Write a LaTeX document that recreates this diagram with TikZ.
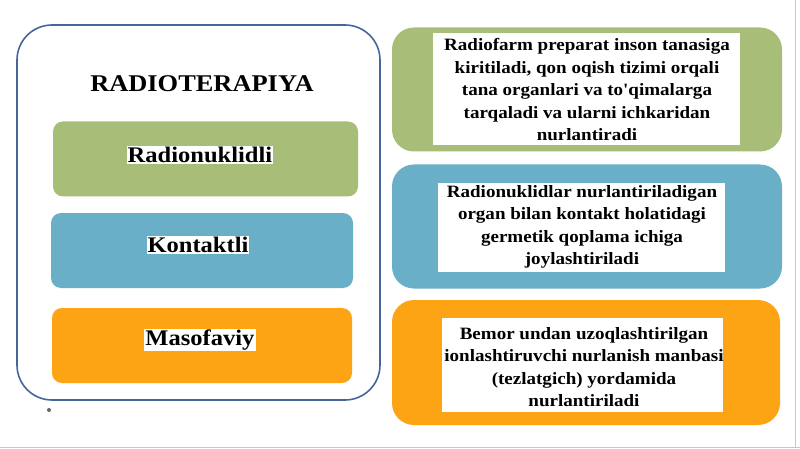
\documentclass[tikz,border=0pt]{standalone}
\usepackage{fontspec}
\setmainfont{Liberation Serif}
\newfontfamily\widefont[FakeStretch=1.1]{Liberation Serif}
\definecolor{frameblue}{HTML}{46659A}
\definecolor{boxgreen}{HTML}{A8BD78}
\definecolor{boxblue}{HTML}{68AFC7}
\definecolor{boxorange}{HTML}{FDA415}
\definecolor{edgeblue}{HTML}{B3CDE3}
\begin{document}
\begin{tikzpicture}[x=1pt,y=-1pt,
  lbox/.style={rounded corners=10pt, minimum width=#1, minimum height=75pt, inner sep=0pt},
  rbox/.style={rounded corners=22pt, minimum width=390pt, minimum height=124pt, inner sep=0pt},
  wrect/.style={fill=white, inner sep=0pt},
  ltext/.style={fill=white, inner sep=1pt, font=\widefont\bfseries\fontsize{22.3}{24}\selectfont},
  rtext/.style={align=center, font=\widefont\bfseries\fontsize{17.3}{22.5}\selectfont, inner sep=0pt}
]
\useasboundingbox (0,0) rectangle (800,449);
\fill[white] (0,0) rectangle (800,449);
\draw[edgeblue, line width=1.5pt] (0,447.5) -- (800,447.5);
\draw[edgeblue, line width=1pt] (795,0) -- (795,447);

% left frame
\node[draw=frameblue, line width=1.6pt, rounded corners=35pt, minimum width=363pt, minimum height=375pt, inner sep=0pt] (frame) at (198.5,212.5) {};
\node[font=\widefont\bfseries\fontsize{24}{26}\selectfont] (title) at (202,84) {RADIOTERAPIYA};

\node[lbox=305pt, fill=boxgreen] (g) at (205.5,159) {};
\node[ltext] (gt) at (200,155) {Radionuklidli};
\node[lbox=302pt, fill=boxblue] (b) at (202,250.5) {};
\node[ltext] (bt) at (198,245) {Kontaktli};
\node[lbox=300pt, fill=boxorange] (o) at (202,345.5) {};
\node[ltext] (ot) at (200,340) {Masofaviy};
\fill[gray!80!black] (49,410) circle (2pt);

% right column
\node[rbox, fill=boxgreen] (rg) at (587,89.5) {};
\node[wrect, minimum width=307pt, minimum height=112pt] (rgw) at (586.5,89) {};
\node[rtext] (rgt) at (587,90) {Radiofarm preparat inson tanasiga\\kiritiladi, qon oqish tizimi orqali\\tana organlari va to'qimalarga\\tarqaladi va ularni ichkaridan\\nurlantiradi};

\node[rbox, fill=boxblue] (rb) at (587,226.5) {};
\node[wrect, minimum width=287pt, minimum height=89pt] (rbw) at (581.5,227.5) {};
\node[rtext] (rbt) at (582,227) {Radionuklidlar nurlantiriladigan\\organ bilan kontakt holatidagi\\germetik qoplama ichiga\\joylashtiriladi};

\node[rbox, fill=boxorange, minimum width=388pt, minimum height=125pt] (ro) at (586,362.5) {};
\node[wrect, minimum width=281pt, minimum height=94pt] (row) at (582.5,365) {};
\node[rtext] (rot) at (584,367) {Bemor undan uzoqlashtirilgan\\ionlashtiruvchi nurlanish manbasi\\(tezlatgich) yordamida\\nurlantiriladi};
\end{tikzpicture}
\end{document}
